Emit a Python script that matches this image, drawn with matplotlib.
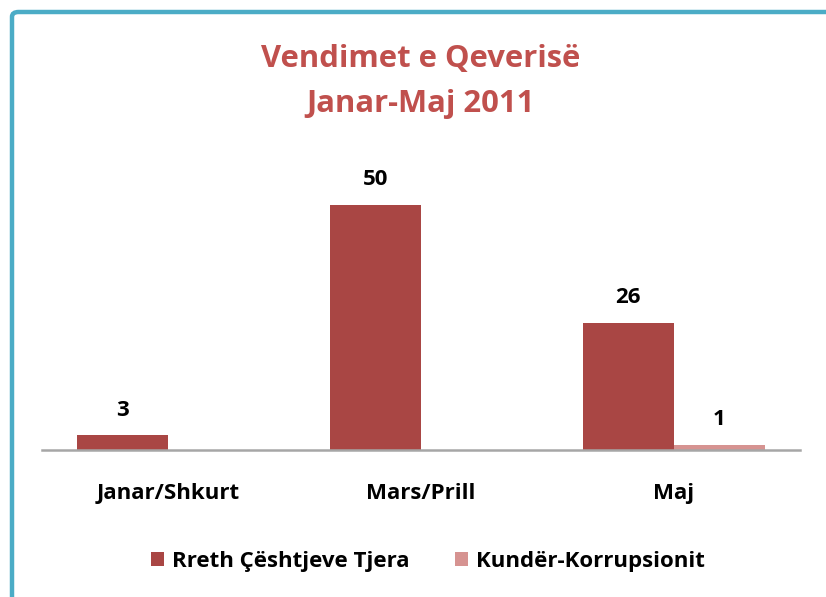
import numpy as np
import matplotlib
matplotlib.use("Agg")
import matplotlib.pyplot as plt
from matplotlib.patches import FancyBboxPatch

plt.rcParams['font.family'] = ['Open Sans', 'DejaVu Sans']

# data
categories = ['Janar/Shkurt', 'Mars/Prill', 'Maj']
rreth = [3, 50, 26]
kunder = [0, 0, 1]
series_names = ['Rreth Çështjeve Tjera', 'Kundër-Korrupsionit']

dark = '#A94644'
light = '#D69391'
title_color = '#C0504D'

fig = plt.figure(figsize=(8.26, 5.97), dpi=100)

# rounded cyan frame, only top/left visible
frame = FancyBboxPatch((12 / 826, -0.1), 1.2, 1 - 12 / 597 + 0.1,
                       boxstyle='round,pad=0,rounding_size=0.008',
                       transform=fig.transFigure, fill=False,
                       edgecolor='#4BACC6', linewidth=3.2)
fig.add_artist(frame)

ax = fig.add_axes([42 / 826, 147 / 597, 758 / 826, 0.4925])
x = np.arange(len(categories))
w = 0.36
b1 = ax.bar(x - w / 2, rreth, w, color=dark, label=series_names[0])
b2 = ax.bar(x + w / 2, kunder, w, color=light, label=series_names[1])

for rect, v in zip(b1, rreth):
    ax.text(rect.get_x() + rect.get_width() / 2, v + 3.0, str(v),
            ha='center', va='bottom', fontsize=16, fontweight='bold')
rect = b2[2]
ax.text(rect.get_x() + rect.get_width() / 2, kunder[2] + 3.0, str(kunder[2]),
        ha='center', va='bottom', fontsize=16, fontweight='bold')

ax.set_xlim(-0.5, 2.5)
ax.set_ylim(0, 60)
ax.set_yticks([])
for s in ['top', 'right', 'left']:
    ax.spines[s].set_visible(False)
ax.spines['bottom'].set_color('#A6A6A6')
ax.spines['bottom'].set_linewidth(1.8)
ax.set_xticks(x)
ax.set_xticklabels(categories, fontsize=16, fontweight='bold')
ax.tick_params(axis='x', length=0, pad=24)

fig.text(421 / 826, 1 - 59 / 597, 'Vendimet e Qeverisë', ha='center', va='center',
         fontsize=22.3, fontweight='bold', color=title_color)
fig.text(421 / 826, 1 - 104 / 597, 'Janar-Maj 2011', ha='center', va='center',
         fontsize=22.3, fontweight='bold', color=title_color)

fig.legend(handles=[b1, b2], labels=series_names, loc='center',
           bbox_to_anchor=(428 / 826, 1 - 561 / 597), ncol=2, frameon=False,
           prop={'size': 16, 'weight': 'bold'}, handlelength=0.6,
           handleheight=0.6, columnspacing=2.05, handletextpad=0.35)

fig.savefig('out.png', dpi=100)
